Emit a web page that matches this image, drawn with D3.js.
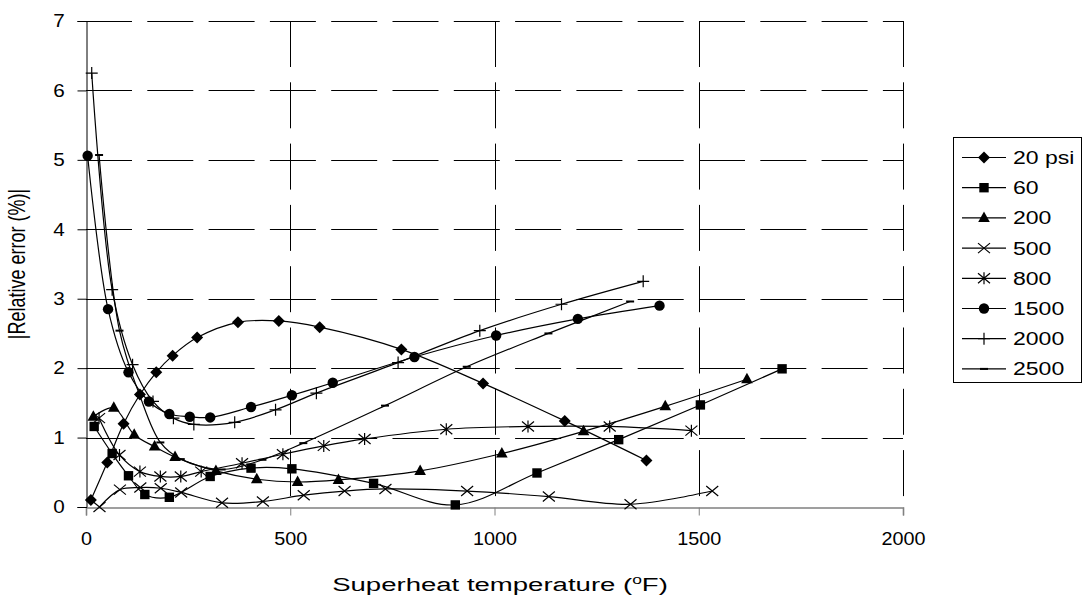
<!DOCTYPE html>
<html><head><meta charset="utf-8">
<script src="https://cdn.jsdelivr.net/npm/d3@7"></script>
<style>body{margin:0;background:#fff;} svg{display:block;} text{font-family:"Liberation Sans",Arial,sans-serif;fill:#000;}</style>
</head><body>
<svg id="chart" width="1084" height="601"></svg>
<script>
// ---- data (superheat °F, |relative error| %) ----
const seriesNames = ["20 psi","60","200","500","800","1500","2000","2500"];
const markerTypes = ["diamond","square","triangle","x","asterisk","circle","plus","dash"];
const sh20   = [12, 52, 92, 132, 172, 212, 272, 372, 472, 572, 772, 972, 1172, 1372];
const err20  = [0.10, 0.64, 1.20, 1.62, 1.94, 2.18, 2.44, 2.66, 2.68, 2.59, 2.27, 1.78, 1.24, 0.67];
const sh60   = [20, 64, 104, 144, 204, 304, 404, 504, 704, 904, 1104, 1304, 1504, 1704];
const err60  = [1.16, 0.77, 0.45, 0.18, 0.14, 0.44, 0.56, 0.55, 0.34, 0.03, 0.49, 0.97, 1.47, 1.99];
const sh200  = [18, 68, 118, 168, 218, 318, 418, 518, 618, 818, 1018, 1218, 1418, 1618];
const err200 = [1.30, 1.43, 1.04, 0.87, 0.72, 0.52, 0.40, 0.36, 0.39, 0.52, 0.77, 1.09, 1.45, 1.84];
const sh500  = [33, 83, 133, 183, 233, 333, 433, 533, 633, 733, 933, 1133, 1333, 1533];
const err500 = [0.00, 0.25, 0.28, 0.27, 0.21, 0.06, 0.08, 0.17, 0.23, 0.26, 0.23, 0.15, 0.04, 0.23];
const sh800  = [32, 82, 132, 182, 232, 282, 382, 482, 582, 682, 882, 1082, 1282, 1482];
const err800 = [1.28, 0.75, 0.51, 0.44, 0.44, 0.51, 0.63, 0.76, 0.88, 0.98, 1.12, 1.16, 1.16, 1.10];
const sh1500 = [4, 54, 104, 154, 204, 254, 304, 404, 504, 604, 804, 1004, 1204, 1404];
const err1500= [5.06, 2.85, 1.94, 1.52, 1.34, 1.30, 1.29, 1.44, 1.61, 1.79, 2.16, 2.47, 2.71, 2.90];
const sh2000 = [14, 64, 114, 164, 214, 264, 364, 464, 564, 764, 964, 1164, 1364];
const err2000= [6.25, 3.13, 2.05, 1.52, 1.28, 1.19, 1.22, 1.40, 1.64, 2.08, 2.54, 2.92, 3.25];
const sh2500 = [32, 82, 132, 182, 232, 332, 432, 532, 732, 932, 1132, 1332];
const err2500= [5.07, 2.54, 1.60, 0.93, 0.69, 0.54, 0.68, 0.92, 1.46, 2.02, 2.50, 2.96];
const xTicks = [0, 500, 1000, 1500, 2000];
const yTicks = [0, 1, 2, 3, 4, 5, 6, 7];

const xs = [sh20, sh60, sh200, sh500, sh800, sh1500, sh2000, sh2500];
const ys = [err20, err60, err200, err500, err800, err1500, err2000, err2500];
const series = seriesNames.map((n, i) => ({name: n, type: markerTypes[i],
  pts: xs[i].map((x, j) => ({x: x, y: ys[i][j]}))}));

// ---- layout ----
const L = 86, R = 903, T = 21, B = 507;
const svg = d3.select("#chart");
svg.append("rect").attr("width",1084).attr("height",601).attr("fill","#fff");
const x = d3.scaleLinear().domain([0,2000]).range([L,R]);
const y = d3.scaleLinear().domain([0,7]).range([B,T]);

// grid
const g = svg.append("g");
g.selectAll(".hg").data(yTicks.filter(d=>d>0)).join("line")
  .attr("x1",L).attr("x2",R).attr("y1",d=>Math.round(y(d))+0.5).attr("y2",d=>Math.round(y(d))+0.5)
  .attr("stroke","#000").attr("stroke-width",1).attr("stroke-dasharray","46,15.3");
g.selectAll(".vg").data(xTicks.filter(d=>d>0)).join("line")
  .attr("y1",T).attr("y2",B).attr("x1",d=>Math.round(x(d))+0.5).attr("x2",d=>Math.round(x(d))+0.5)
  .attr("stroke","#000").attr("stroke-width",1).attr("stroke-dasharray","46,15.3");

// axes
const xAxis = d3.axisBottom(x).tickValues(xTicks).tickFormat(d3.format("d")).tickSize(8).tickPadding(17);
const yAxis = d3.axisLeft(y).tickValues(yTicks).tickFormat(d3.format("d")).tickSize(9).tickPadding(13);
const gx = svg.append("g").attr("transform",`translate(0,${B+0.5})`).call(xAxis);
const gy = svg.append("g").attr("transform",`translate(${L+0.5},0)`).call(yAxis);
[gx,gy].forEach(a=>{
  a.select(".domain").attr("stroke","#000").attr("stroke-width",1);
  a.selectAll(".tick line").attr("stroke","#000");
  a.selectAll(".tick text").attr("font-size",18).attr("font-family","Liberation Sans, Arial, sans-serif").attr("fill","#000");
});
gx.selectAll(".tick text").attr("transform","scale(1.1,1)");
gy.selectAll(".tick text").attr("x",-19).attr("transform","scale(1.15,1)");
gx.select(".domain").attr("stroke","#808080").attr("stroke-width",1.6);
gx.selectAll(".tick line").attr("stroke","#808080");

// titles
const xt = svg.append("text").attr("transform","translate(500,591) scale(1.45,1)")
  .attr("text-anchor","middle").attr("font-size",19);
xt.append("tspan").text("Superheat temperature (");
xt.append("tspan").attr("dy",-7).attr("font-size",12).text("o");
xt.append("tspan").attr("dy",7).text("F)");
svg.append("text").attr("transform",`translate(25,${(T+B)/2}) scale(1.3,1) rotate(-90)`)
  .attr("text-anchor","middle").attr("font-size",18).text("|Relative error (%)|");

// markers
function markerPath(type){
  switch(type){
    case "diamond": return "M0,-6L6,0L0,6L-6,0Z";
    case "square": return "M-4.7,-4.7H4.7V4.7H-4.7Z";
    case "triangle": return "M0,-6.5L5.8,4L-5.8,4Z";
    case "x": return "M-6,-5L6,5M-6,5L6,-5";
    case "asterisk": return "M-6,-5L6,5M-6,5L6,-5M0,-6V6";
    case "plus": return "M-6,0H6M0,-6V6";
    case "dash": return "M-4,-1H4V1H-4Z";
  }
}
function drawMarker(sel, type){
  if(type==="circle"){
    sel.append("circle").attr("r",5.2).attr("fill","#000");
  } else {
    const filled = ["diamond","square","triangle","dash"].includes(type);
    sel.append("path").attr("d",markerPath(type))
      .attr("fill",filled?"#000":"none").attr("stroke","#000").attr("stroke-width",filled?0:1.2);
  }
}

const line = d3.line().x(d=>x(d.x)).y(d=>y(d.y)).curve(d3.curveCatmullRom.alpha(0.5));
const sg = svg.append("g");
series.forEach(s=>{
  sg.append("path").attr("d",line(s.pts)).attr("fill","none").attr("stroke","#000").attr("stroke-width",1.2);
});
series.forEach(s=>{
  const m = sg.append("g").selectAll("g").data(s.pts).join("g")
    .attr("transform",d=>`translate(${x(d.x)},${y(d.y)})`);
  m.each(function(){ drawMarker(d3.select(this), s.type); });
});

// legend
const lg = svg.append("g");
lg.append("rect").attr("x",953.5).attr("y",137.5).attr("width",128).attr("height",245)
  .attr("fill","#fff").attr("stroke","#000").attr("stroke-width",1);
series.forEach((s,i)=>{
  const cy = 157.5 + i*30.2;
  const it = lg.append("g");
  it.append("line").attr("x1",962).attr("x2",1006).attr("y1",cy).attr("y2",cy).attr("stroke","#000").attr("stroke-width",1.2);
  const mk = it.append("g").attr("transform",`translate(984,${cy})`);
  drawMarker(mk, s.type);
  it.append("text").attr("transform",`translate(1013,${cy+6.5}) scale(1.28,1)`).attr("font-size",18).text(s.name);
});
</script>
</body></html>
